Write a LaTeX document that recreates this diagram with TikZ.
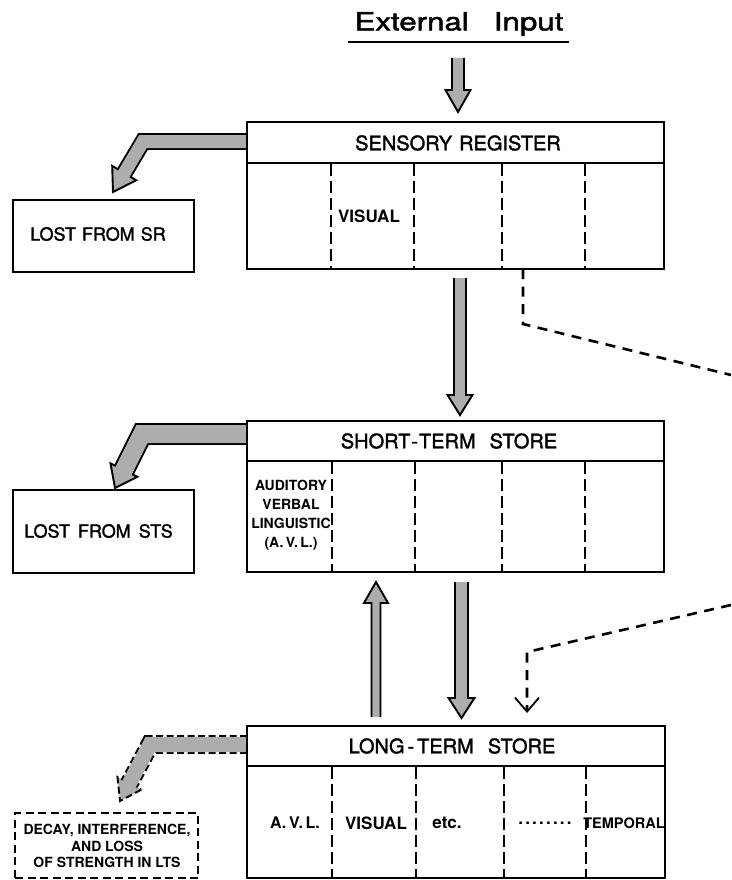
\documentclass[tikz,border=0pt]{standalone}
\usepackage{fontspec}
\usepackage{graphicx}
\setmainfont{TeX Gyre Heros}
\newfontfamily\lettr[FakeBold=1.6]{TeX Gyre Heros}
\usetikzlibrary{calc,arrows.meta}
\definecolor{blockgray}{gray}{0.68}
\tikzset{
  mainbox/.style={draw, line width=2.8pt, inner sep=0pt, outer sep=0pt, anchor=north west},
  lostbox/.style={draw, line width=2.3pt, inner sep=0pt, outer sep=0pt, anchor=north west},
  hdrline/.style={line width=2.4pt},
  divider/.style={line width=1.9pt, dash pattern=on 12pt off 5pt},
  dashconn/.style={line width=2.6pt, dash pattern=on 10pt off 7.5pt},
  blockedge/.style={line width=1.9pt, line join=miter},
  dashedge/.style={dash pattern=on 7pt off 3.5pt},
  hdr/.style={font=\lettr\fontsize{20}{24}\selectfont, inner sep=0pt},
  losttxt/.style={font=\lettr\fontsize{18}{22}\selectfont, inner sep=0pt},
  cell/.style={font=\bfseries\fontsize{17}{20}\selectfont, inner sep=0pt},
  avl/.style={font=\bfseries\fontsize{14}{19}\selectfont, align=center, inner sep=0pt},
  decay/.style={font=\bfseries\fontsize{14}{16.5}\selectfont, align=center, inner sep=0pt},
  titletxt/.style={font=\lettr\fontsize{25}{28}\selectfont, inner sep=0pt},
}
% vertical block arrows: from, to(tip), half shaft, half head, head length
\newcommand\blkdown[5]{%
  \fill[blockgray] let \p1=(#1), \p2=(#2) in
    (\x2-#3,\y1) -- (\x2-#3,\y2+#5) -- (\x2-#4,\y2+#5) -- (\x2,\y2) -- (\x2+#4,\y2+#5) -- (\x2+#3,\y2+#5) -- (\x2+#3,\y1) -- cycle;
  \draw[blockedge] let \p1=(#1), \p2=(#2) in
    (\x2-#3,\y1) -- (\x2-#3,\y2+#5) -- (\x2-#4,\y2+#5) -- (\x2,\y2) -- (\x2+#4,\y2+#5) -- (\x2+#3,\y2+#5) -- (\x2+#3,\y1);
}
\newcommand\blkup[5]{%
  \fill[blockgray] let \p1=(#1), \p2=(#2) in
    (\x2-#3,\y1) -- (\x2-#3,\y2-#5) -- (\x2-#4,\y2-#5) -- (\x2,\y2) -- (\x2+#4,\y2-#5) -- (\x2+#3,\y2-#5) -- (\x2+#3,\y1) -- cycle;
  \draw[blockedge] let \p1=(#1), \p2=(#2) in
    (\x2-#3,\y1) -- (\x2-#3,\y2-#5) -- (\x2-#4,\y2-#5) -- (\x2,\y2) -- (\x2+#4,\y2-#5) -- (\x2+#3,\y2-#5) -- (\x2+#3,\y1);
}
% bent block arrow: start, elbow, tip, outer width, inner width, head length, head half width, edge style
\newcommand\blkbent[8]{%
  \coordinate (hb) at ($(#3)!#6!(#2)$);
  \coordinate (hx) at ($(hb)!2.5pt!(#3)$);
  \coordinate (hl) at ($(hb)!#7!90:(#3)$);
  \coordinate (hr) at ($(hb)!#7!-90:(#3)$);
  \draw[line width=#4, line join=miter, #8] (#1) -- (#2) -- (hb);
  \fill[blockgray] (hl) -- (#3) -- (hr) -- cycle;
  \draw[blockedge, #8] (hl) -- (#3) -- (hr) -- cycle;
  \draw[line width=#5, blockgray, line join=miter] (#1) -- (#2) -- (hx);
}
\begin{document}
\begin{tikzpicture}[x=1pt,y=-1pt]
\useasboundingbox (0,0) rectangle (731,880);

% title
\node[titletxt] (title) at (459,24) {\scalebox{1.25}[1]{External\hspace{20pt}Input}};
\coordinate (ul1) at (348,42);
\coordinate (ul2) at (569,42);
\draw[line width=2.6pt] (ul1) -- (ul2);

% vertical block arrows
\coordinate (in1) at (458,58);
\coordinate (in2) at (458,112);
\blkdown{in1}{in2}{6pt}{12.5pt}{22pt}
\coordinate (s1) at (460,278);
\coordinate (s2) at (460,415);
\blkdown{s1}{s2}{6pt}{12.5pt}{20pt}
\coordinate (t1) at (461.5,582);
\coordinate (t2) at (461.5,718);
\blkdown{t1}{t2}{6.5pt}{13pt}{20pt}
\coordinate (u1) at (376,717);
\coordinate (u2) at (376,582);
\blkup{u1}{u2}{4.5pt}{12pt}{21pt}

% bent "lost" arrows
\coordinate (l1s) at (247,141.5);
\coordinate (l1e) at (143,141.5);
\coordinate (l1t) at (113,192);
\blkbent{l1s}{l1e}{l1t}{16.8pt}{13pt}{22pt}{14pt}{}
\coordinate (l2s) at (247,434);
\coordinate (l2e) at (142,434);
\coordinate (l2t) at (115,488);
\blkbent{l2s}{l2e}{l2t}{21.8pt}{18pt}{20pt}{15pt}{}
\coordinate (l3s) at (247,744.5);
\coordinate (l3e) at (150,744.5);
\coordinate (l3t) at (120,801);
\blkbent{l3s}{l3e}{l3t}{18.8pt}{15pt}{20pt}{13.5pt}{dashedge}

% sensory register
\node[mainbox, minimum width=417pt, minimum height=147pt] (sr) at (247,122) {};
\draw[hdrline] (247,163) -- (664,163);
\foreach \xx in {331,414,502,585} \draw[divider] (\xx,164) -- (\xx,268);
\node[hdr] (srh) at (458,143) {SENSORY\hspace{7pt}REGISTER};
\node[cell] (srv) at (369,216) {VISUAL};

% short-term store
\node[mainbox, minimum width=417pt, minimum height=151pt] (sts) at (247,421) {};
\draw[hdrline] (247,461) -- (664,461);
\foreach \xx in {332,415,502,585} \draw[divider] (\xx,462) -- (\xx,571);
\node[hdr] (stsh) at (449,441) {SHORT\kern1pt-\kern1pt TERM\hspace{14pt}STORE};
\node[avl] (stsavl) at (291,515) {AUDITORY\\VERBAL\\LINGUISTIC\\(A.\,V.\,L.)};

% long-term store
\node[mainbox, minimum width=418pt, minimum height=152pt] (lts) at (247,726) {};
\draw[hdrline] (247,766) -- (665,766);
\foreach \xx in {332,416,504,586} \draw[divider] (\xx,767) -- (\xx,877);
\node[hdr] (ltsh) at (452,746) {LONG\kern3pt-\kern3pt TERM\hspace{14pt}STORE};
\node[cell, font=\bfseries\fontsize{16}{20}\selectfont] (ltsa) at (295,823) {A.\,V.\,L.};
\node[cell] (ltsb) at (376,823) {VISUAL};
\node[cell] (ltsc) at (447,823) {etc.};
\node[cell] (ltsd) at (545,823) {.\kern2.2pt.\kern2.2pt.\kern2.2pt.\kern2.2pt.\kern2.2pt.\kern2.2pt.\kern2.2pt.};
\node[cell, font=\bfseries\fontsize{14.5}{18}\selectfont] (ltse) at (624,823) {TEMPORAL};

% lost boxes
\node[lostbox, minimum width=181pt, minimum height=72pt] (lsrbox) at (13,200) {};
\node[losttxt] (lsr) at (98,234) {LOST\hspace{6pt}FROM\hspace{6pt}SR};
\node[lostbox, minimum width=181pt, minimum height=83pt] (lstsbox) at (13,490) {};
\node[losttxt] (lsts) at (98.5,531) {LOST\hspace{8pt}FROM\hspace{8pt}STS};
\node[lostbox, dash pattern=on 8pt off 4.5pt, minimum width=183pt, minimum height=65pt] (ldbox) at (15,813) {};
\node[decay] (ld) at (107,846) {DECAY, INTERFERENCE,\\AND LOSS\\OF STRENGTH IN LTS};

% dashed control connectors
\coordinate (e1) at (731,375);
\coordinate (c1) at (523,324);
\draw[dashconn] ($(sr.south west)+(276,0)$) -- (c1) -- (e1);
\coordinate (e2) at (731,605);
\coordinate (c2) at (527,652);
\coordinate (c3) at (527,713);
\draw[dashconn, -{Straight Barb[length=14pt,width=24pt,line width=1.8pt]}] (e2) -- (c2) -- (c3);
\end{tikzpicture}
\end{document}
